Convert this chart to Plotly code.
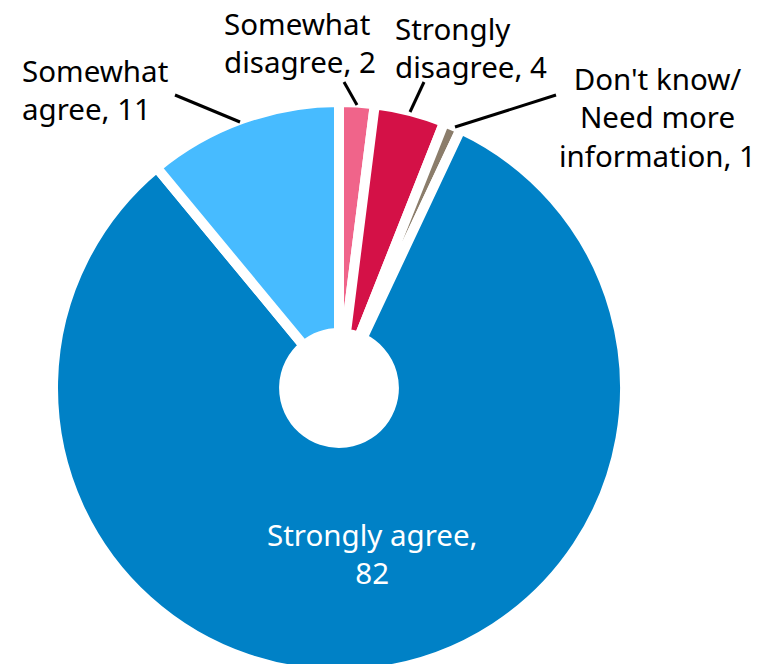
import plotly.graph_objects as go

# Données du sondage (ordre horaire depuis 12 h)
labels = ["Somewhat disagree", "Strongly disagree", "Don't know/Need more information",
          "Strongly agree", "Somewhat agree"]
values = [2, 4, 1, 82, 11]
colors = ["#F0648A", "#D41147", "#8B7D6B", "#0081C6", "#47BBFF"]

# Textes des étiquettes
label_texts = ["Somewhat<br>disagree, 2", "Strongly<br>disagree, 4",
               "Don't know/<br>Need more<br>information, 1",
               "Strongly agree,<br>82", "Somewhat<br>agree, 11"]

W, H = 764, 700
OFF = 8  # marge par défaut du <body>


def px(x, y):
    """pixels de la capture -> coordonnées papier"""
    return (x - OFF) / W, 1 - (y - OFF) / H


# Centre et rayon du camembert (px de la capture)
cx, cy, r = 339, 388, 286
x0p, y1p = px(cx - r, cy - r)
x1p, y0p = px(cx + r, cy + r)

fig = go.Figure()
fig.add_trace(go.Pie(
    labels=labels,
    values=values,
    sort=False,
    direction="clockwise",
    rotation=0,
    hole=0.192,
    textinfo="none",
    hoverinfo="label+value",
    marker=dict(colors=colors, line=dict(color="white", width=10)),
    domain=dict(x=[x0p, x1p], y=[y0p, y1p]),
    showlegend=False,
))

# Position des étiquettes (x, y en px, ancrage, alignement, couleur)
label_pos = [
    (222, 42, "left", "left", "black"),
    (393, 47, "left", "left", "black"),
    (657, 117, "center", "center", "black"),
    (372, 553, "center", "center", "white"),
    (20, 90, "left", "left", "black"),
]
for txt, (x, y, anchor, align, col) in zip(label_texts, label_pos):
    xp, yp = px(x, y)
    fig.add_annotation(
        x=xp, y=yp, xref="paper", yref="paper",
        text=txt, showarrow=False,
        xanchor=anchor, yanchor="middle", align=align,
        font=dict(family="Noto Sans", size=29.5, color=col),
    )

# Traits de rappel
leaders = [
    ((175, 95), (240, 122)),
    ((344, 82), (357, 105)),
    ((424, 82), (410, 112)),
    ((556, 95), (455, 127)),
]
for (xa, ya), (xb, yb) in leaders:
    a0, b0 = px(xa, ya)
    a1, b1 = px(xb, yb)
    fig.add_shape(type="line", xref="paper", yref="paper",
                  x0=a0, y0=b0, x1=a1, y1=b1,
                  line=dict(color="black", width=3))

fig.update_layout(
    width=W, height=H,
    margin=dict(l=0, r=0, t=0, b=0),
    paper_bgcolor="white",
    plot_bgcolor="white",
)

fig.write_html("out.html")
